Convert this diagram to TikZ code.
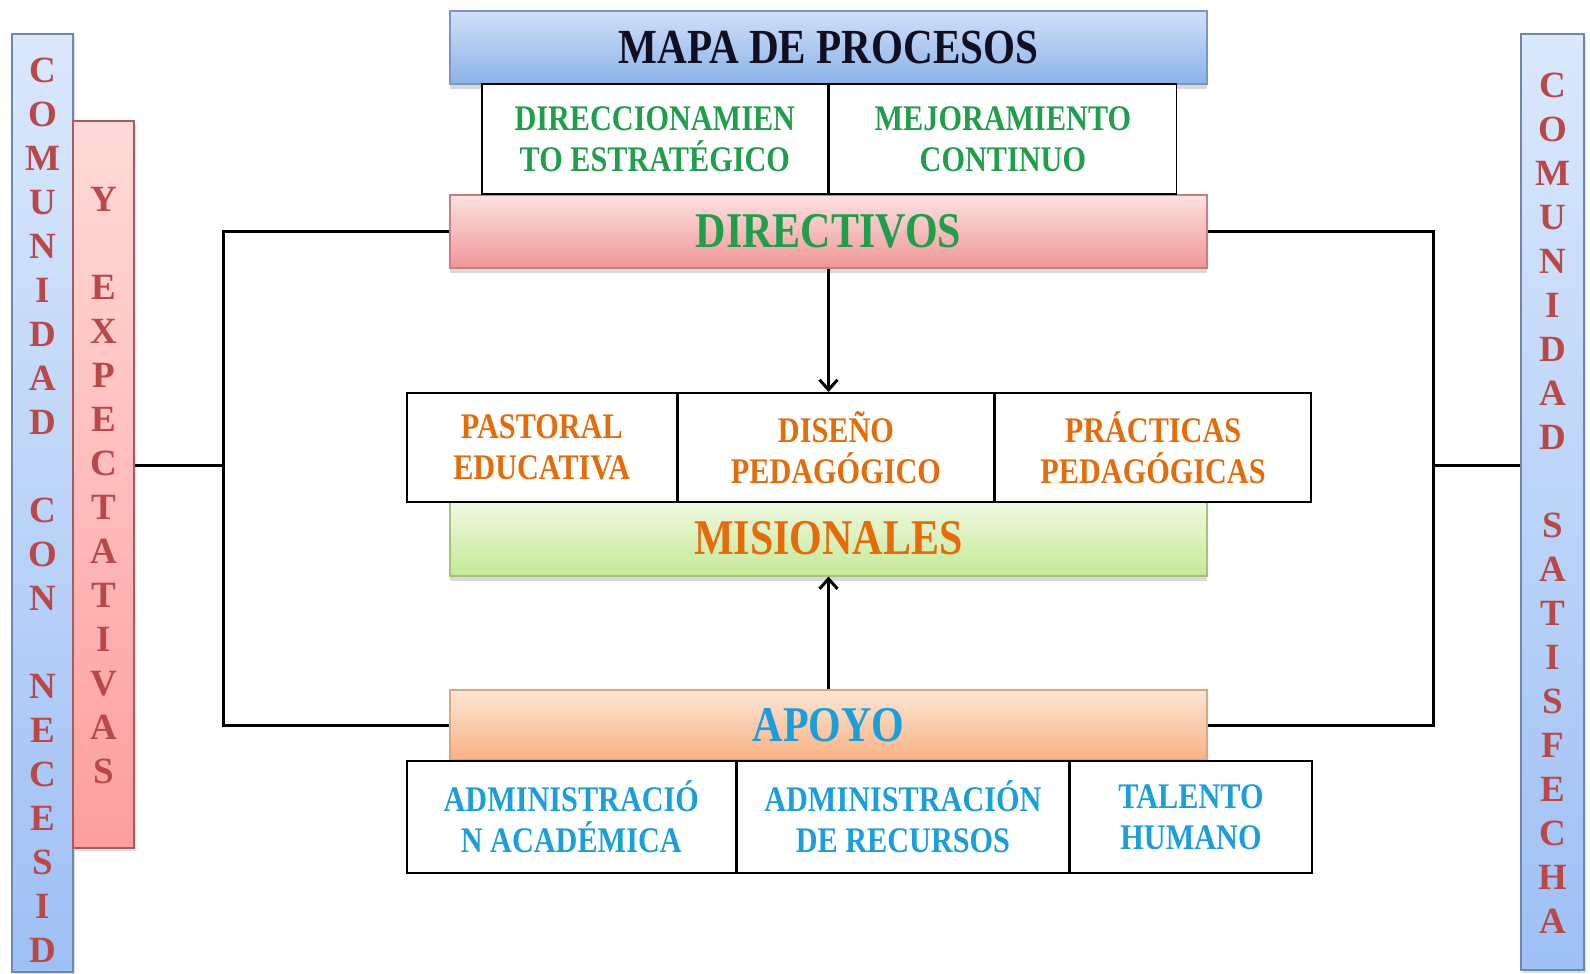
\documentclass[tikz,border=0pt]{standalone}
\usepackage{fontspec}
\setmainfont{Liberation Serif}
\newfontfamily\angosta[FakeStretch=0.84]{Liberation Serif}
\usepackage{xcolor}
\usepackage{tikz}
\usetikzlibrary{arrows.meta}
\usetikzlibrary{positioning,shadows}
\definecolor{verde}{RGB}{33,158,76}
\definecolor{naranja}{RGB}{228,108,10}
\definecolor{azul}{RGB}{28,158,218}
\definecolor{rojoletra}{RGB}{185,72,72}
\definecolor{tinta}{RGB}{15,15,35}
\tikzset{%
  >={Straight Barb[width=9pt,length=5pt]},
  % Specifications for style of nodes:
  banda/.style = {rectangle, line width=0.6pt,
    minimum width=378.5pt,
    minimum height=36.5pt,
    text centered, font=\angosta\bfseries\fontsize{25}{30}\selectfont,
    drop shadow={shadow xshift=0pt, shadow yshift=-2.5pt, opacity=0.3}},
  celda/.style = {rectangle, draw=black, line width=0.8pt, fill=white,
    align=center, inner sep=0pt,
    font=\angosta\bfseries\fontsize{18}{20.5}\selectfont},
  columna/.style = {rectangle, line width=0.6pt, minimum width=30.5pt,
    drop shadow={shadow xshift=1pt, shadow yshift=-1.5pt, opacity=0.25}},
  azulcol/.style = {columna, draw={rgb,255:red,110;green,135;blue,175},
    top color={rgb,255:red,218;green,232;blue,252},
    bottom color={rgb,255:red,158;green,192;blue,245}},
  letras/.style = {anchor=north, align=center, inner sep=0pt, text=rojoletra,
    font=\bfseries\fontsize{18.5}{22}\selectfont},
  linea/.style = {draw=black, line width=1.5pt},
}

\begin{document}
\begin{tikzpicture}[x=0.5pt, y=-0.5pt]
        \useasboundingbox (0,0) rectangle (1590,974);
        % side columns
        \node(ComNec)[azulcol, minimum height=469pt] at (42.5,503) {};
        \node(Expec)[columna, minimum height=363.5pt,
          draw={rgb,255:red,170;green,90;blue,90},
          top color={rgb,255:red,255;green,218;blue,218},
          bottom color={rgb,255:red,254;green,158;blue,158}] at (103.5,484.5) {};
        \node(ComSat)[azulcol, minimum height=468pt, minimum width=31.5pt] at (1552.5,502) {};
        \node(LetNec)[letras] at (42.5,58) {C\\O\\M\\U\\N\\I\\D\\A\\D\\[22pt]C\\O\\N\\[22pt]N\\E\\C\\E\\S\\I\\D};
        \node(LetExp)[letras] at (103.5,187) {Y\\[22pt]E\\X\\P\\E\\C\\T\\A\\T\\I\\V\\A\\S};
        \node(LetSat)[letras] at (1552.5,73) {C\\O\\M\\U\\N\\I\\D\\A\\D\\[22pt]S\\A\\T\\I\\S\\F\\E\\C\\H\\A};
        % process bands
        \node(Mapa)[banda, text=tinta, font=\angosta\bfseries\fontsize{24.5}{28}\selectfont,
          draw={rgb,255:red,120;green,150;blue,200},
          top color={rgb,255:red,208;green,224;blue,249},
          bottom color={rgb,255:red,140;green,178;blue,232}] at (828.5,47.5) {MAPA DE PROCESOS};
        \node(Dir)[banda, text=verde,
          draw={rgb,255:red,205;green,125;blue,125},
          top color={rgb,255:red,252;green,226;blue,226},
          bottom color={rgb,255:red,240;green,150;blue,150}] at (828.5,231.5) {DIRECTIVOS};
        \node(Mis)[banda, text=naranja, minimum height=37.5pt,
          draw={rgb,255:red,165;green,195;blue,125},
          top color={rgb,255:red,240;green,249;blue,226},
          bottom color={rgb,255:red,196;green,233;blue,150}] at (828.5,538.5) {MISIONALES};
        \node(Apo)[banda, text=azul, minimum height=35pt,
          draw={rgb,255:red,225;green,165;blue,125},
          top color={rgb,255:red,253;green,230;blue,212},
          bottom color={rgb,255:red,248;green,178;blue,132}] at (828.5,725) {APOYO};
        % process cells
        \node(DirEst)[celda, text=verde, minimum width=173pt, minimum height=55pt,
          anchor=north west] at (481,83) {DIRECCIONAMIEN\\TO ESTRATÉGICO};
        \node(MejCon)[celda, text=verde, minimum width=173.5pt, minimum height=55pt,
          right=0pt of DirEst] {MEJORAMIENTO\\CONTINUO};
        \node(Past)[celda, text=naranja, minimum width=135pt, minimum height=54.5pt,
          anchor=north west] at (406,392) {PASTORAL\\EDUCATIVA};
        \node(Dis)[celda, text=naranja, minimum width=157.5pt, minimum height=54.5pt,
          right=0pt of Past] {DISEÑO\\PEDAGÓGICO};
        \node(Prac)[celda, text=naranja, minimum width=158pt, minimum height=54.5pt,
          right=0pt of Dis] {PRÁCTICAS\\PEDAGÓGICAS};
        \node(AdmAc)[celda, text=azul, minimum width=164.5pt, minimum height=56pt,
          anchor=north west] at (406,760) {ADMINISTRACIÓ\\N ACADÉMICA};
        \node(AdmRec)[celda, text=azul, minimum width=165.5pt, minimum height=56pt,
          right=0pt of AdmAc] {ADMINISTRACIÓN\\DE RECURSOS};
        \node(Tal)[celda, text=azul, minimum width=121pt, minimum height=56pt,
          right=0pt of AdmRec] {TALENTO\\HUMANO};
        % connectors
        \coordinate(IzqC) at (223,465);
        \coordinate(DerC) at (1433,465);
        \draw[linea](Dir.west) -| (IzqC) |- (Apo.west);
        \draw[linea](Expec.east |- IzqC) -- (IzqC);
        \draw[linea](Dir.east) -| (DerC) |- (Apo.east);
        \draw[linea](DerC) -- (ComSat.west |- DerC);
        \draw[linea,->](Dir.south) -- (Dir.south |- Dis.north);
        \draw[linea,->](Apo.north) -- (Mis.south);
    \end{tikzpicture}
\end{document}
